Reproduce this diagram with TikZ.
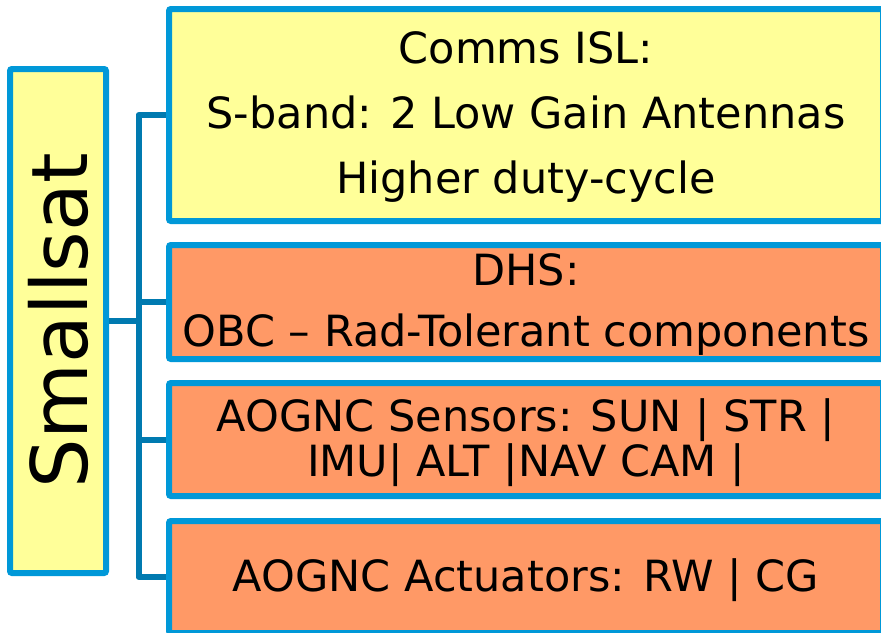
\documentclass[tikz,border=0pt]{standalone}
\usepackage{fontspec}
\setmainfont{DejaVu Sans}
\definecolor{satyellow}{HTML}{FFFF99}
\definecolor{subsalmon}{HTML}{FF9966}
\definecolor{edgeblue}{HTML}{0098D8}
\definecolor{linkblue}{HTML}{007AB0}
\usetikzlibrary{positioning}

\tikzset{
  unitbox/.style={draw=edgeblue, line width=6pt, rounded corners=2pt,
                  inner sep=0pt, align=center, text=black},
  subtext/.style={font=\fontsize{43}{#1}\selectfont, text depth=4pt},
  link/.style={draw=linkblue, line width=6pt, line join=round}
}

\begin{document}
\begin{tikzpicture}[x=1pt, y=-1pt]
  \useasboundingbox (0,0) rectangle (881,632);

  \node[unitbox, fill=satyellow, minimum width=96pt, minimum height=504pt]
    (smallsat) at (58,321)
    {\rotatebox{90}{\fontsize{78}{80}\selectfont Smallsat}};

  % subsystem boxes, right edge runs off the page
  \node[unitbox, fill=satyellow, subtext=65pt,
        minimum width=714pt, minimum height=212pt]
    (comms) at (526,115)
    {Comms ISL:\\S-band: 2 Low Gain Antennas\\Higher duty-cycle};
  \node[unitbox, fill=subsalmon, subtext=61pt,
        minimum width=714pt, minimum height=114pt]
    (dhs) at (526,302)
    {DHS:\\OBC -- Rad-Tolerant components};
  \node[unitbox, fill=subsalmon, subtext=45pt,
        minimum width=714pt, minimum height=113pt]
    (sensors) at (526,439.5)
    {AOGNC Sensors: SUN | STR |\\IMU| ALT |NAV CAM |};
  \node[unitbox, fill=subsalmon, subtext=50pt,
        minimum width=714pt, minimum height=112pt]
    (actuators) at (526,577)
    {AOGNC Actuators: RW | CG};

  \coordinate (bus) at (138.5,321);
  \draw[link] (comms.west) -| (bus) |- (actuators.west);
  \draw[link] (smallsat.east) -- (bus);
  \draw[link] (dhs.west) -- (dhs.west -| bus);
  \draw[link] (sensors.west) -- (sensors.west -| bus);
\end{tikzpicture}
\end{document}
